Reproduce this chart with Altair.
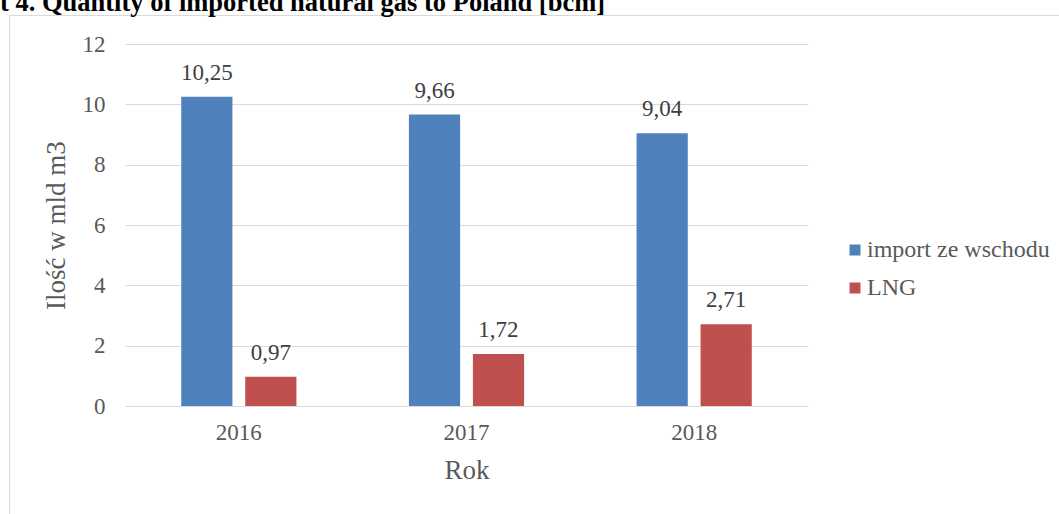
import altair as alt
import pandas as pd

years = ["2016", "2017", "2018"]
series = ["import ze wschodu", "LNG"]
import_vals = [10.25, 9.66, 9.04]
lng_vals = [0.97, 1.72, 2.71]
colors = ["#4F81BD", "#C0504D"]
title_text = "t 4. Quantity of imported natural gas to Poland [bcm]"

rows = []
for i, y in enumerate(years):
    rows.append({"Rok": y, "series": series[0], "value": import_vals[i]})
    rows.append({"Rok": y, "series": series[1], "value": lng_vals[i]})
df = pd.DataFrame(rows)

FONT = "Liberation Serif"
GRID = "#D9D9D9"
TXT = "#595959"

x_enc = alt.X("Rok:N", sort=years,
              scale=alt.Scale(paddingInner=0.494, paddingOuter=0.247),
              axis=alt.Axis(title="Rok", labelAngle=0, ticks=False, domainColor=GRID, grid=False,
                            labelPadding=15, titlePadding=13))
xo_enc = alt.XOffset("series:N", sort=series, scale=alt.Scale(paddingInner=0.2, paddingOuter=0))
y_enc = alt.Y("value:Q", scale=alt.Scale(domain=[0, 12]),
              axis=alt.Axis(title="Ilość w mld m3", values=[0, 2, 4, 6, 8, 10, 12], ticks=False,
                            domain=False, gridColor=GRID, labelPadding=20, titlePadding=12))
color_enc = alt.Color("series:N", sort=series,
                      scale=alt.Scale(domain=series, range=colors),
                      legend=alt.Legend(title=None, orient="none", legendX=718, legendY=194,
                                        symbolType="square", symbolSize=121, symbolStrokeWidth=0,
                                        labelFont=FONT, labelFontSize=24, labelColor=TXT,
                                        labelLimit=400, rowPadding=14, labelOffset=0))

bars = alt.Chart(df).mark_bar().encode(x=x_enc, xOffset=xo_enc, y=y_enc, color=color_enc)
labels = alt.Chart(df).transform_calculate(
    lab="replace(format(datum.value, '.2f'), '.', ',')"
).mark_text(font=FONT, fontSize=23, color="#404040", baseline="alphabetic", dy=-17).encode(
    x=alt.X("Rok:N", sort=years), xOffset=alt.XOffset("series:N", sort=series),
    y="value:Q", text="lab:N")

one = pd.DataFrame({"a": [0]})
border = alt.Chart(one).mark_rect(fill=None, stroke=GRID, strokeWidth=1).encode(
    x=alt.value(-115.5), x2=alt.value(1000), y=alt.value(-28.5), y2=alt.value(600))
title = alt.Chart(one).mark_text(text=title_text, font=FONT, fontSize=26.5, fontWeight="bold",
                                 color="black", align="left", baseline="alphabetic").encode(
    x=alt.value(-125), y=alt.value(-33))

chart = alt.layer(border, bars, labels, title).properties(
    width=683, height=362,
    background="white",
    autosize=alt.AutoSizeParams(type="none"),
    padding={"left": 125, "top": 44, "right": 251, "bottom": 108},
).configure_view(strokeWidth=0, stroke="transparent").configure_axis(
    labelFont=FONT, labelFontSize=23, labelColor=TXT,
    titleFont=FONT, titleFontSize=27, titleColor=TXT, titleFontWeight="normal"
)

chart.save("out.html", embed_options={"renderer": "svg", "actions": False})
